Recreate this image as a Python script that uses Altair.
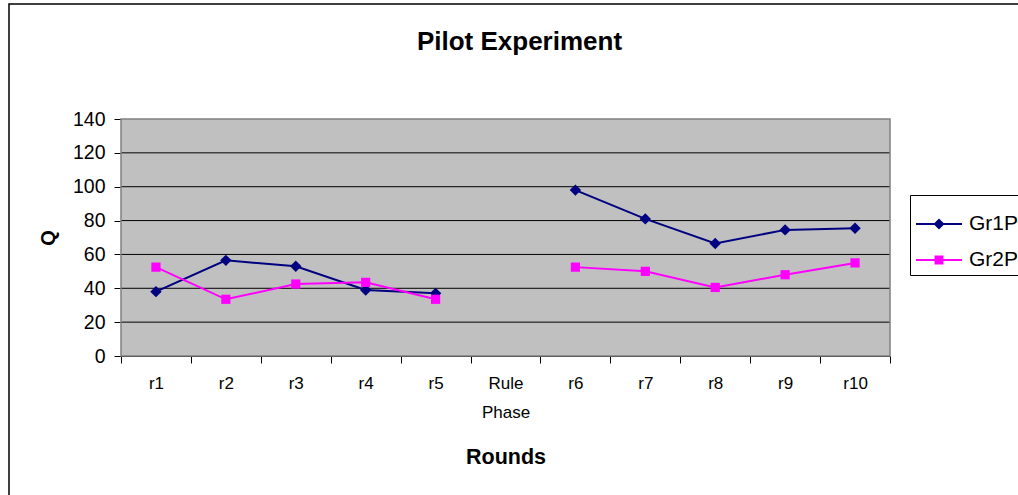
import altair as alt
import pandas as pd

# Rounds of the pilot experiment (a rule phase separates the two halves)
rounds = ["r1", "r2", "r3", "r4", "r5", "Rule Phase", "r6", "r7", "r8", "r9", "r10"]
series_names = ["Gr1P", "Gr2P"]
series_colors = ["#000080", "#FF00FF"]

# Q per round; no measurement during the rule phase
gr1p = [38, 56.5, 53, 39, 37, None, 98, 81, 66.5, 74.5, 75.5]
gr2p = [52.5, 33.5, 42.5, 43.5, 33.5, None, 52.5, 50, 40.5, 48, 55]

# value axis ticks
q_ticks = [0, 20, 40, 60, 80, 100, 120, 140]

rows = []
for name, values in zip(series_names, [gr1p, gr2p]):
    for i, (r, v) in enumerate(zip(rounds, values)):
        if v is None:
            continue
        rows.append({"round": r, "series": name, "Q": v,
                     "segment": "before" if i < rounds.index("Rule Phase") else "after"})
df = pd.DataFrame(rows)

FONT = "Liberation Sans"

# legend glyphs: a short line with the marker in its middle
diamond_key = "M-1,0L1,0M0,-0.18L0.18,0L0,0.18L-0.18,0Z"
square_key = "M-1,0L1,0M-0.15,-0.15L0.15,-0.15L0.15,0.15L-0.15,0.15Z"

x_enc = alt.X(
    "round:N",
    sort=rounds,
    scale=alt.Scale(type="band", domain=rounds, paddingInner=0, paddingOuter=0),
    axis=alt.Axis(
        title="Rounds",
        titleFont=FONT, titleFontSize=21.5, titleFontWeight="bold", titleColor="black",
        titlePadding=26,
        labelFont=FONT, labelFontSize=17, labelColor="black", labelAngle=0,
        labelExpr="split(datum.label, ' ')", labelLineHeight=29, labelPadding=12,
        tickBand="extent", tickSize=7, tickColor="black",
        domainColor="black", grid=False,
    ),
)
q_scale = alt.Scale(domain=[q_ticks[0], q_ticks[-1]], nice=False)
y_enc = alt.Y(
    "Q:Q",
    scale=q_scale,
    axis=alt.Axis(
        title="Q",
        titleFont=FONT, titleFontSize=20, titleFontWeight="bold", titleColor="black",
        titlePadding=14,
        values=q_ticks,
        labelFont=FONT, labelFontSize=19.5, labelColor="black", labelPadding=9,
        tickSize=7, tickColor="black", domainColor="black",
        grid=False,
    ),
)

series_scale = alt.Scale(domain=series_names, range=series_colors)

# grey plot-area background
plot_bg = alt.Chart(alt.Data(values=[{}])).mark_rect(
    fill="#C0C0C0", strokeWidth=0
).encode(
    x=alt.value(0), x2=alt.value("width"), y=alt.value(0), y2=alt.value("height")
)

# horizontal grid lines (the top one is the plot-area border)
grid = alt.Chart(pd.DataFrame({"Q": q_ticks[1:-1]})).mark_rule(
    color="black", strokeWidth=1
).encode(y=y_enc)

# plot-area border
plot_border = alt.Chart(alt.Data(values=[{}])).mark_rect(
    fillOpacity=0, stroke="#808080", strokeWidth=1.5
).encode(
    x=alt.value(0), x2=alt.value("width"), y=alt.value(0), y2=alt.value("height")
)

lines = alt.Chart(df).mark_line(strokeWidth=2).encode(
    x=x_enc, y=y_enc,
    stroke=alt.Stroke("series:N", scale=series_scale, title=None),
    detail="segment:N",
)

diamonds = alt.Chart(df).transform_filter(alt.datum.series == "Gr1P").mark_point(
    filled=True, shape="diamond", size=130, opacity=1
).encode(x=x_enc, y=y_enc, fill=alt.Fill("series:N", scale=series_scale, title=None))

squares = alt.Chart(df).transform_filter(alt.datum.series == "Gr2P").mark_point(
    filled=True, shape="square", size=85, opacity=1
).encode(x=x_enc, y=y_enc, fill=alt.Fill("series:N", scale=series_scale, title=None))

# legend-only layer (no rows) that supplies the line-and-marker keys
legend_keys = alt.Chart(df).transform_filter("false").mark_point(
    filled=True, strokeWidth=2, size=2116, opacity=1
).encode(
    fill=alt.Fill("series:N", scale=series_scale, title=None),
    stroke=alt.Stroke("series:N", scale=series_scale, title=None),
    shape=alt.Shape("series:N", scale=alt.Scale(domain=series_names,
                                                range=[diamond_key, square_key]),
                    title=None),
)

# outer chart frame
frame = alt.Chart(alt.Data(values=[{}])).mark_rect(
    fillOpacity=0, stroke="black", strokeWidth=1.5
).encode(
    x=alt.value(-112), x2=alt.value(905), y=alt.value(-115), y2=alt.value(385)
)

chart = alt.layer(
    frame, plot_bg, grid, plot_border, lines, diamonds, squares, legend_keys
).properties(
    width=769, height=237,
    background="white",
    title=alt.TitleParams(
        "Pilot Experiment", font=FONT, fontSize=26, fontWeight="bold", color="black",
        anchor="middle", dx=14, offset=-52,
    ),
    autosize=alt.AutoSizeParams(type="none"),
    padding={"left": 121, "top": 119, "right": 128, "bottom": 139},
).configure_view(
    strokeWidth=0
).configure_legend(
    orient="none", legendX=789, legendY=76,
    strokeColor="black", fillColor="white", padding=5,
    labelFont=FONT, labelFontSize=21, labelColor="black", labelOffset=6,
    symbolSize=2116, symbolStrokeWidth=2, rowPadding=2,
)

chart.save("out.html", embed_options={"renderer": "svg", "actions": False})
